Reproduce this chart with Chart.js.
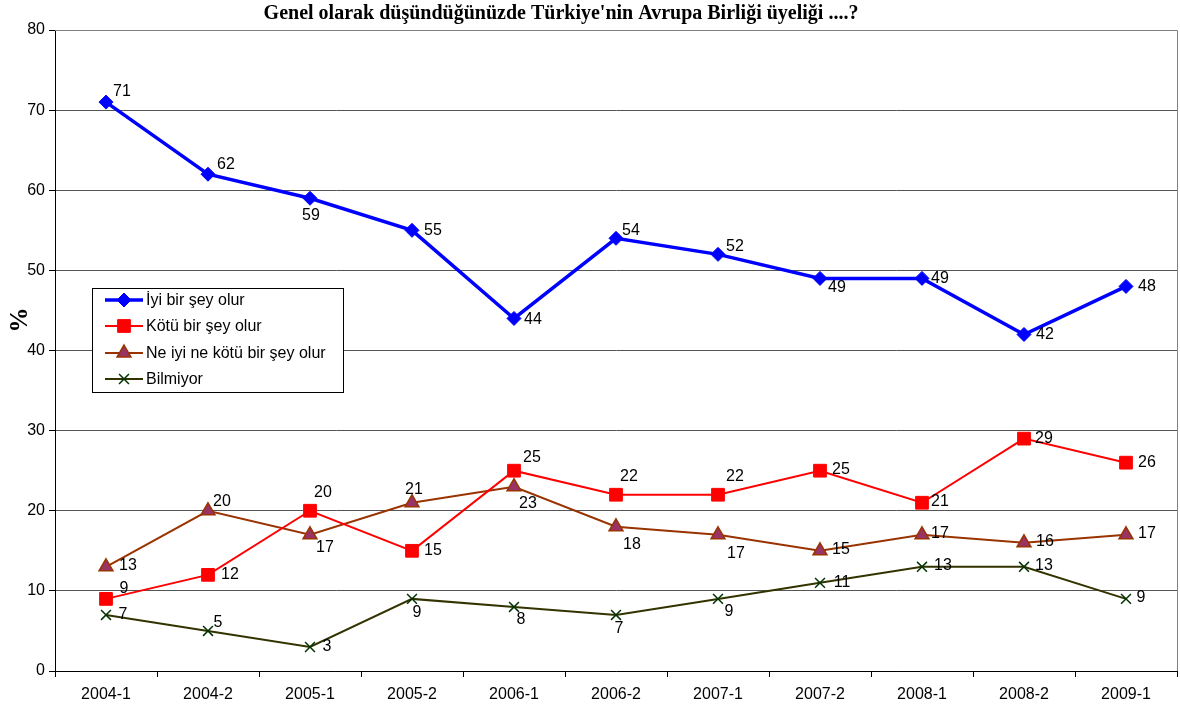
<!DOCTYPE html>
<html>
<head>
<meta charset="utf-8">
<title>Türkiye AB üyeliği</title>
<script src="https://cdn.jsdelivr.net/npm/chart.js@4/dist/chart.umd.min.js"></script>
<style>
  body { margin: 0; background: #fff; }
  canvas { display: block; }
</style>
</head>
<body>
<canvas id="grafik" width="1180" height="707"></canvas>
<script>
// Veriler
const donemler = ['2004-1', '2004-2', '2005-1', '2005-2', '2006-1', '2006-2', '2007-1', '2007-2', '2008-1', '2008-2', '2009-1'];
const iyiDegerler = [71, 62, 59, 55, 44, 54, 52, 49, 49, 42, 48];
const kotuDegerler = [9, 12, 20, 15, 25, 22, 22, 25, 21, 29, 26];
const neIyiDegerler = [13, 20, 17, 21, 23, 18, 17, 15, 17, 16, 17];
const bilmiyorDegerler = [7, 5, 3, 9, 8, 7, 9, 11, 13, 13, 9];

// Etiketlerin noktaya göre kayması (dx, dy)
const iyiEtiket = [[16,-11],[18,-10],[1,17],[21,0],[19,1],[15,-8],[17,-8],[17,9],[18,0],[21,0],[21,0]];
const kotuEtiket = [[18,-10],[22,0],[13,-18],[21,0],[18,-13],[13,-18],[17,-18],[21,-1],[18,-1],[20,0],[21,0]];
const neIyiEtiket = [[22,-1],[14,-9],[15,13],[2,-13],[14,17],[16,18],[18,19],[21,-1],[18,-1],[21,-1],[21,-1]];
const bilmiyorEtiket = [[17,0],[10,-8],[17,0],[5,14],[7,13],[3,14],[11,13],[22,0],[21,-1],[20,-1],[15,-1]];

const baslik = "Genel olarak düşündüğünüzde Türkiye'nin Avrupa Birliği üyeliği ....?";

//Veri setleri
const datasets = [
  {
    label: 'İyi bir şey olur', data: iyiDegerler, etiketler: iyiEtiket,
    borderColor: '#0000ff', borderWidth: 3.5,
    pointStyle: 'rectRot', pointRadius: 7, pointBackgroundColor: '#0000ff', pointBorderColor: '#0000ff', pointBorderWidth: 1
  },
  {
    label: 'Kötü bir şey olur', data: kotuDegerler, etiketler: kotuEtiket,
    borderColor: '#ff0000', borderWidth: 2,
    pointStyle: 'rect', pointRadius: 9, pointBackgroundColor: '#ff0000', pointBorderColor: '#ff0000', pointBorderWidth: 1
  },
  {
    label: 'Ne iyi ne kötü bir şey olur', data: neIyiDegerler, etiketler: neIyiEtiket,
    borderColor: '#993300', borderWidth: 2,
    pointStyle: 'triangle', pointRadius: 8, pointBackgroundColor: '#993366', pointBorderColor: '#993300', pointBorderWidth: 1.5
  },
  {
    label: 'Bilmiyor', data: bilmiyorDegerler, etiketler: bilmiyorEtiket,
    borderColor: '#333300', borderWidth: 2,
    pointStyle: 'crossRot', pointRadius: 7, pointBackgroundColor: '#003300', pointBorderColor: '#003300', pointBorderWidth: 1.5
  }
];

const yaziTipi = '"Liberation Sans", Arial, sans-serif';

function isaretCiz(ctx, ds, x, y) {
  ctx.save();
  ctx.fillStyle = ds.pointBackgroundColor;
  ctx.strokeStyle = ds.pointBorderColor;
  ctx.lineWidth = ds.pointBorderWidth;
  Chart.helpers.drawPoint(ctx, { pointStyle: ds.pointStyle, radius: ds.pointRadius, rotation: 0, borderWidth: ds.pointBorderWidth }, x, y);
  ctx.restore();
}

//Eklenti: başlık, etiketler, lejant
const ekler = {
  id: 'ekler',
  afterDatasetsDraw(chart) {
    const ctx = chart.ctx;
    const alan = chart.chartArea;

    // sağ ve üst çerçeve
    ctx.save();
    ctx.strokeStyle = '#808080';
    ctx.lineWidth = 1;
    ctx.beginPath();
    ctx.moveTo(alan.left, alan.top + 0.5);
    ctx.lineTo(alan.right + 0.5, alan.top + 0.5);
    ctx.lineTo(alan.right + 0.5, alan.bottom);
    ctx.stroke();
    ctx.restore();

    // veri etiketleri
    ctx.save();
    ctx.font = '16px ' + yaziTipi;
    ctx.fillStyle = '#000';
    ctx.textAlign = 'center';
    ctx.textBaseline = 'middle';
    chart.data.datasets.forEach((ds, i) => {
      const meta = chart.getDatasetMeta(i);
      meta.data.forEach((p, j) => {
        const off = ds.etiketler[j];
        ctx.fillText(String(ds.data[j]), p.x + off[0], p.y + off[1]);
      });
    });
    ctx.restore();

    // başlık
    ctx.save();
    ctx.font = 'bold 20px "Liberation Serif", "Times New Roman", serif';
    ctx.fillStyle = '#000';
    ctx.textAlign = 'center';
    ctx.textBaseline = 'middle';
    ctx.fillText(baslik, 561, 14);
    ctx.restore();

    // eksen başlığı
    ctx.save();
    ctx.font = 'bold 25px "Liberation Serif", "Times New Roman", serif';
    ctx.fillStyle = '#000';
    ctx.textAlign = 'center';
    ctx.textBaseline = 'middle';
    ctx.translate(21, 320);
    ctx.rotate(-Math.PI / 2);
    ctx.fillText('%', 0, 0);
    ctx.restore();

    // lejant
    ctx.save();
    ctx.fillStyle = '#fff';
    ctx.fillRect(92, 288, 251, 104);
    ctx.strokeStyle = '#000';
    ctx.lineWidth = 1;
    ctx.strokeRect(92.5, 288.5, 251, 104);
    ctx.font = '16px ' + yaziTipi;
    ctx.textAlign = 'left';
    ctx.textBaseline = 'middle';
    const satirlar = [300, 326, 353, 379];
    chart.data.datasets.forEach((ds, i) => {
      const y = satirlar[i];
      ctx.strokeStyle = ds.borderColor;
      ctx.lineWidth = ds.borderWidth;
      ctx.beginPath();
      ctx.moveTo(105, y);
      ctx.lineTo(143, y);
      ctx.stroke();
      isaretCiz(ctx, ds, 124, y);
      ctx.fillStyle = '#000';
      ctx.fillText(ds.label, 146, y + 1);
    });
    ctx.restore();
  }
};

new Chart(document.getElementById('grafik'), {
  type: 'line',
  data: { labels: donemler, datasets: datasets },
  options: {
    responsive: false,
    animation: false,
    devicePixelRatio: 1,
    layout: { autoPadding: false, padding: { top: 30, right: 3, left: 0, bottom: 0 } },
    elements: { line: { tension: 0, fill: false } },
    plugins: { legend: { display: false }, title: { display: false }, tooltip: { enabled: false } },
    scales: {
      x: {
        offset: true,
        grid: { offset: true, drawOnChartArea: false, drawTicks: true, tickLength: 6, color: '#000', tickColor: '#000' },
        border: { color: '#000', width: 1 },
        ticks: { color: '#000', font: { family: yaziTipi, size: 16 }, padding: 8, maxRotation: 0, autoSkip: false },
        afterFit(scale) { scale.height = 36; scale.paddingLeft = 0; scale.paddingRight = 0; }
      },
      y: {
        min: 0, max: 80,
        ticks: { stepSize: 10, color: '#000', font: { family: yaziTipi, size: 16 }, padding: 4 },
        grid: { color: '#555', tickColor: '#000', tickLength: 6, lineWidth: 1 },
        border: { color: '#000', width: 1 },
        afterFit(scale) { scale.width = 55; }
      }
    }
  },
  plugins: [ekler]
});
</script>
</body>
</html>
